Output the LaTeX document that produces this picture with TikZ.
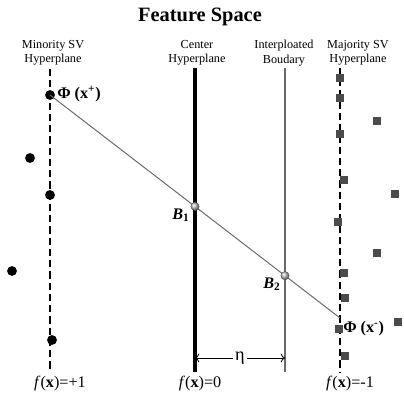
\documentclass[tikz,border=0pt]{standalone}
\usepackage{fontspec}
\setmainfont{Liberation Serif}
\usetikzlibrary{arrows.meta,positioning,shapes}
\definecolor{sqgray}{RGB}{75,75,75}
\definecolor{linegray}{RGB}{105,105,105}

\begin{document}
\begin{tikzpicture}[x=0.025cm,y=-0.025cm,
      plane/.style={font=\fontsize{8.7}{10.2}\selectfont,align=center,inner sep=0pt},
      minor/.style={circle,fill=black,inner sep=0pt,minimum size=7pt},
      major/.style={rectangle,fill=sqgray,inner sep=0pt,minimum size=5.8pt},
      bpt/.style={circle,inner sep=0pt,minimum size=6pt,ball color=gray!50,draw=gray!60!black,very thin},
      blab/.style={font=\fontsize{11.5}{12}\selectfont\bfseries,inner sep=0pt},
      svline/.style={line width=0.8pt,dash pattern=on 5pt off 3pt},
      fx/.style={font=\fontsize{11.5}{13}\selectfont,inner sep=0pt}]
  \useasboundingbox (0,0) rectangle (404,398);
  \node[font=\fontsize{14.5}{16}\selectfont\bfseries] (title) at (200,17) {Feature Space};

  % hyperplane labels
  \node[plane] (lminor) at (53,53) {Minority SV\\Hyperplane};
  \node[plane] (lcenter) at (197,53) {Center\\Hyperplane};
  \node[plane] (linterp) at (284,53) {Interploated\\Boudary};
  \node[plane] (lmajor) at (358,53) {Majority SV\\Hyperplane};

  % hyperplanes
  \coordinate (mt) at (50,69);  \coordinate (mb) at (50,372);
  \coordinate (ct) at (195,68); \coordinate (cb) at (195,372);
  \coordinate (it) at (285,68); \coordinate (ib) at (285,372);
  \coordinate (jt) at (340,68); \coordinate (jb) at (340,372);
  \draw[svline] (mt) -- (mb);
  \draw[line width=2.8pt] (ct) -- (cb);
  \draw[linegray,line width=0.8pt] (it) -- (ib);
  \draw[svline] (jt) -- (jb);

  % minority points
  \node[minor] (xp) at (50,95) {};
  \node[minor] (m2) at (30,158) {};
  \node[minor] (m3) at (50,195) {};
  \node[minor] (m4) at (12,271) {};
  \node[minor] (m5) at (52,340) {};

  % majority points
  \foreach \px/\py [count=\i] in {340/78,340/98,377/121,340/134,344/180,395/194,
      338/222,377/253,344/273,345/298,398/322,345/356}
    \node[major] (s\i) at (\px,\py) {};
  \node[major] (xm) at (339,329) {};
  \coordinate (xmend) at (340,318);

  % interpolation line
  \draw[linegray,line width=0.7pt] (xp.center) -- (xmend);
  \node[bpt] (b1) at (195,206.5) {};
  \node[bpt] (b2) at (285,275.7) {};
  \node[blab] (lb1) at (181,215) {\textit{B}\textsubscript{1}};
  \node[blab] (lb2) at (272,284) {\textit{B}\textsubscript{2}};
  \node[font=\fontsize{11.5}{12}\selectfont\bfseries,inner sep=0pt,anchor=west] (lxp) at (57,94) {Φ (x\textsuperscript{+})};
  \node[font=\fontsize{11.5}{12}\selectfont\bfseries,inner sep=0pt,anchor=west] (lxm) at (343,329) {Φ (x\textsuperscript{-})};

  % margin eta
  \coordinate (ea) at (195,358);
  \coordinate (eb) at (285,358);
  \draw[{To[length=3pt]}-{To[length=3pt]},line width=0.6pt] (ea) -- node[fill=white,inner sep=1.5pt,font=\fontsize{13}{13}\selectfont] (eta) {η} (eb);

  % decision values
  \node[fx] (f1) at (60,384) {\textit{f}(\textbf{x})=+1};
  \node[fx] (f0) at (200,384) {\textit{f}(\textbf{x})=0};
  \node[fx] (f2) at (350,384) {\textit{f}(\textbf{x})=-1};
\end{tikzpicture}
\end{document}
